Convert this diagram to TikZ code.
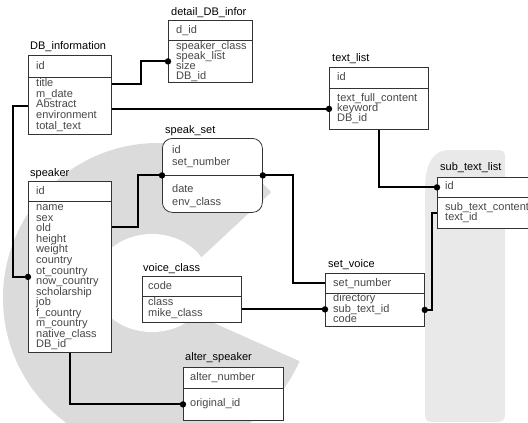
\documentclass[tikz,border=0pt]{standalone}
\usepackage{fontspec}
\setmainfont{Liberation Sans}
\usetikzlibrary{calc}
\definecolor{wm}{gray}{0.86}
\definecolor{wmbar}{gray}{0.915}
\definecolor{boxline}{gray}{0.2}
\definecolor{rowtext}{gray}{0.28}
\begin{document}
\begin{tikzpicture}[x=1pt,y=-1pt,
 tbl/.style={draw=boxline,line width=0.8pt,fill=white,inner sep=0pt,anchor=north west},
 ttl/.style={anchor=west,inner sep=0pt,font=\fontsize{11}{11}\selectfont,text=black,text height=8pt,text depth=2.5pt},
 row/.style={anchor=west,inner sep=0pt,font=\fontsize{11}{11}\selectfont,text=rowtext,text height=8pt,text depth=2.5pt},
 conn/.style={line width=1.9pt,black},
 jdot/.style={black}]
\useasboundingbox (0,0) rectangle (528,423);
\clip (0,0) rectangle (528,423);
\fill[white] (0,0) rectangle (528,423);
% watermark
\fill[wm] (158,298) circle (155pt);
\fill[white] (152,283) ellipse [x radius=58pt, y radius=49pt];
\fill[white] (158,298) -- +(43:340pt) -- +(0:340pt) -- +(-24:340pt) -- cycle;
\fill[wmbar] (425,414) -- (425,190) .. controls (425,165) and (432,150) .. (450,150) -- (498,150)
  .. controls (503,150) and (505,152) .. (505,157) -- (505,414) .. controls (505,420) and (503,422) .. (497,422)
  -- (433,422) .. controls (427,422) and (425,420) .. (425,414) -- cycle;

% DB_information
\node[ttl] (dbi-t) at (30,47) {DB\_information};
\node[tbl,minimum width=83pt,minimum height=22pt] (dbi-h) at (28,55) {};
\node[tbl,minimum width=83pt,minimum height=57pt] (dbi-b) at (28,77) {};
\node[row] (dbi-id) at (36,67) {id};
\foreach \t [count=\i] in {title,m\_date,Abstract,environment,total\_text}
  \node[row] (dbi-r\i) at (36,{84+(\i-1)*10.6}) {\t};

% detail_DB_infor
\node[ttl] (ddi-t) at (171,12.5) {detail\_DB\_infor};
\node[tbl,minimum width=84pt,minimum height=20pt] (ddi-h) at (168,20) {};
\node[tbl,minimum width=84pt,minimum height=42pt] (ddi-b) at (168,40) {};
\node[row] (ddi-id) at (176,31) {d\_id};
\foreach \t [count=\i] in {speaker\_class,speak\_list,size,DB\_id}
  \node[row] (ddi-r\i) at (176,{47+(\i-1)*10}) {\t};

% text_list
\node[ttl] (tl-t) at (332,58.5) {text\_list};
\node[tbl,minimum width=99pt,minimum height=21pt] (tl-h) at (329,67) {};
\node[tbl,minimum width=99pt,minimum height=41pt] (tl-b) at (329,88) {};
\node[row] (tl-id) at (337,78) {id};
\foreach \t [count=\i] in {text\_full\_content,keyword,DB\_id}
  \node[row] (tl-r\i) at (337,{99+(\i-1)*10}) {\t};

% sub_text_list
\node[ttl] (stl-t) at (440,167.5) {sub\_text\_list};
\node[tbl,minimum width=110pt,minimum height=20pt] (stl-h) at (437,177) {};
\node[tbl,minimum width=110pt,minimum height=31pt] (stl-b) at (437,197) {};
\node[row] (stl-id) at (445,187) {id};
\node[row] (stl-r1) at (445,208) {sub\_text\_content};
\node[row] (stl-r2) at (445,218) {text\_id};

% speak_set
\node[ttl] (ss-t) at (165,130.5) {speak\_set};
\node[tbl,rounded corners=10pt,minimum width=100pt,minimum height=74pt] (ss) at (162,138) {};
\draw[boxline,line width=0.8pt] (ss.west) -- (ss.east);
\node[row] (ss-r1) at (172,151) {id};
\node[row] (ss-r2) at (172,163) {set\_number};
\node[row] (ss-r3) at (172,190) {date};
\node[row] (ss-r4) at (172,203) {env\_class};

% speaker
\node[ttl] (spk-t) at (30,173.5) {speaker};
\node[tbl,minimum width=83pt,minimum height=20pt] (spk-h) at (28,181) {};
\node[tbl,minimum width=83pt,minimum height=151pt] (spk-b) at (28,201) {};
\node[row] (spk-id) at (36,192) {id};
\foreach \t [count=\i] in {name,sex,old,height,weight,country,ot\_country,now\_country,scholarship,job,f\_country,m\_country,native\_class,DB\_id}
  \node[row] (spk-r\i) at (36,{208+(\i-1)*10.55}) {\t};

% voice_class
\node[ttl] (vc-t) at (143,268.5) {voice\_class};
\node[tbl,minimum width=99pt,minimum height=20pt] (vc-h) at (142,276) {};
\node[tbl,minimum width=99pt,minimum height=26pt] (vc-b) at (142,296) {};
\node[row] (vc-id) at (148,287) {code};
\node[row] (vc-r1) at (148,303) {class};
\node[row] (vc-r2) at (148,314) {mike\_class};

% set_voice
\node[ttl] (sv-t) at (328,264.5) {set\_voice};
\node[tbl,minimum width=99pt,minimum height=20pt] (sv-h) at (325,273) {};
\node[tbl,minimum width=99pt,minimum height=33pt] (sv-b) at (325,293) {};
\node[row] (sv-id) at (333,284) {set\_number};
\foreach \t [count=\i] in {directory,sub\_text\_id,code}
  \node[row] (sv-r\i) at (333,{299+(\i-1)*10.5}) {\t};

% alter_speaker
\node[ttl] (as-t) at (185,357.5) {alter\_speaker};
\node[tbl,minimum width=100pt,minimum height=21pt] (as-h) at (183,367) {};
\node[tbl,minimum width=100pt,minimum height=32pt] (as-b) at (183,388) {};
\node[row] (as-id) at (190,378) {alter\_number};
\node[row] (as-r1) at (190,404) {original\_id};

% connectors
\draw[conn] (dbi-b.east |- dbi-r1) -- ++(29,0) |- (ddi-b.west);
\fill[jdot] (ddi-b.west) circle (3.2pt);
\draw[conn] (dbi-b.east |- tl-b.west) -- (tl-b.west);
\fill[jdot] (tl-b.west) circle (3.2pt);
\draw[conn] (dbi-b.west) -- ++(-15,0) |- (spk-b.west);
\fill[jdot] (spk-b.west) circle (3.2pt);
\draw[conn] ($(spk-b.north east)+(0,26)$) -- ++(26,0) |- (ss.west);
\fill[jdot] (ss.west) circle (3.2pt);
\draw[conn] (ss.east) -- ++(30,0) |- (sv-h.west);
\fill[jdot] (ss.east) circle (3.2pt);
\draw[conn] (vc-b.east) -- (sv-b.west |- vc-b.east);
\fill[jdot] (sv-b.west |- vc-b.east) circle (3.2pt);
\draw[conn] (sv-b.east) -- ++(7,0) |- (stl-b.west);
\fill[jdot] (sv-b.east) circle (3.2pt);
\draw[conn] (tl-b.south) |- (stl-h.west);
\fill[jdot] (stl-h.west) circle (3.2pt);
\draw[conn] (spk-b.south) |- (as-b.west);
\fill[jdot] (as-b.west) circle (3.2pt);
\end{tikzpicture}
\end{document}
